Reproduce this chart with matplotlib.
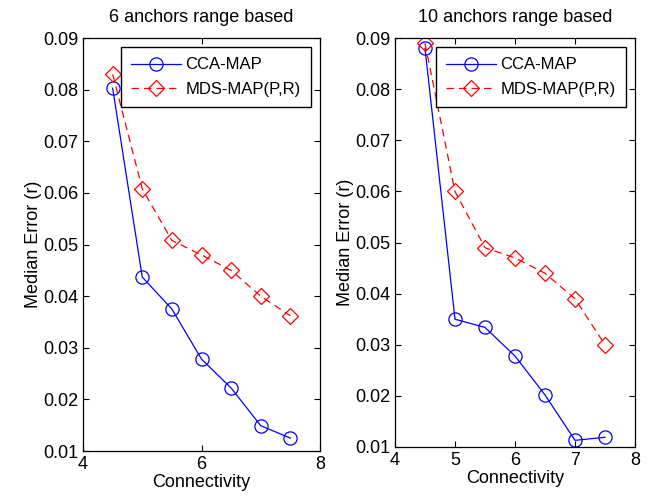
import matplotlib
matplotlib.use("Agg")
import matplotlib.pyplot as plt

plt.rcParams['font.family'] = ['Liberation Sans', 'DejaVu Sans']

connectivity = [4.5, 5.0, 5.5, 6.0, 6.5, 7.0, 7.5]
cca_6 = [0.0803, 0.0437, 0.0375, 0.0278, 0.0222, 0.0149, 0.0125]
mds_6 = [0.0830, 0.0608, 0.0508, 0.0480, 0.0450, 0.0400, 0.0362]
cca_10 = [0.0880, 0.0350, 0.0334, 0.0278, 0.0202, 0.0113, 0.0119]
mds_10 = [0.0890, 0.0600, 0.0490, 0.0470, 0.0440, 0.0390, 0.0300]
titles = ["6 anchors range based", "10 anchors range based"]
xticks_list = [[4, 6, 8], [4, 5, 6, 7, 8]]
yticks = [0.01, 0.02, 0.03, 0.04, 0.05, 0.06, 0.07, 0.08, 0.09]

fig = plt.figure(figsize=(6.6, 5.01), dpi=100)
ax1 = fig.add_axes([0.1258, 0.0998, 0.3591, 0.824])
ax2 = fig.add_axes([0.5985, 0.1078, 0.3636, 0.816])

for ax, cca, mds, title, xt in [(ax1, cca_6, mds_6, titles[0], xticks_list[0]),
                                (ax2, cca_10, mds_10, titles[1], xticks_list[1])]:
    ax.plot(connectivity, cca, color='#0000ff', lw=0.9, marker='o', ms=9.5,
            mfc='none', mec='#0000ff', mew=0.9, label='CCA-MAP')
    ax.plot(connectivity, mds, color='#ff0000', lw=0.9, ls=(0, (6, 4)), marker='D', ms=8,
            mfc='none', mec='#ff0000', mew=0.9, label='MDS-MAP(P,R)')
    ax.set_xlim(4, 8)
    ax.set_ylim(0.01, 0.09)
    ax.set_xticks(xt)
    ax.set_yticks(yticks)
    ax.set_yticklabels([f"{v:.2f}" for v in yticks])
    ax.tick_params(direction='in', top=True, right=True, labelsize=13, length=4, width=0.8)
    ax.set_xlabel('Connectivity', fontsize=13, labelpad=1)
    ax.set_ylabel('Median Error (r)', fontsize=13, labelpad=1)
    ax.set_title(title, fontsize=13, pad=12)
    for s in ax.spines.values():
        s.set_linewidth(0.9)
    leg = ax.legend(loc='upper right', fontsize=12, fancybox=False, framealpha=1,
                    edgecolor='black', handlelength=3.0, handletextpad=0.3,
                    labelspacing=0.55, borderpad=0.6, borderaxespad=0.55)
    leg.get_frame().set_linewidth(1.0)

fig.savefig('out.png', dpi=100, facecolor='white')
